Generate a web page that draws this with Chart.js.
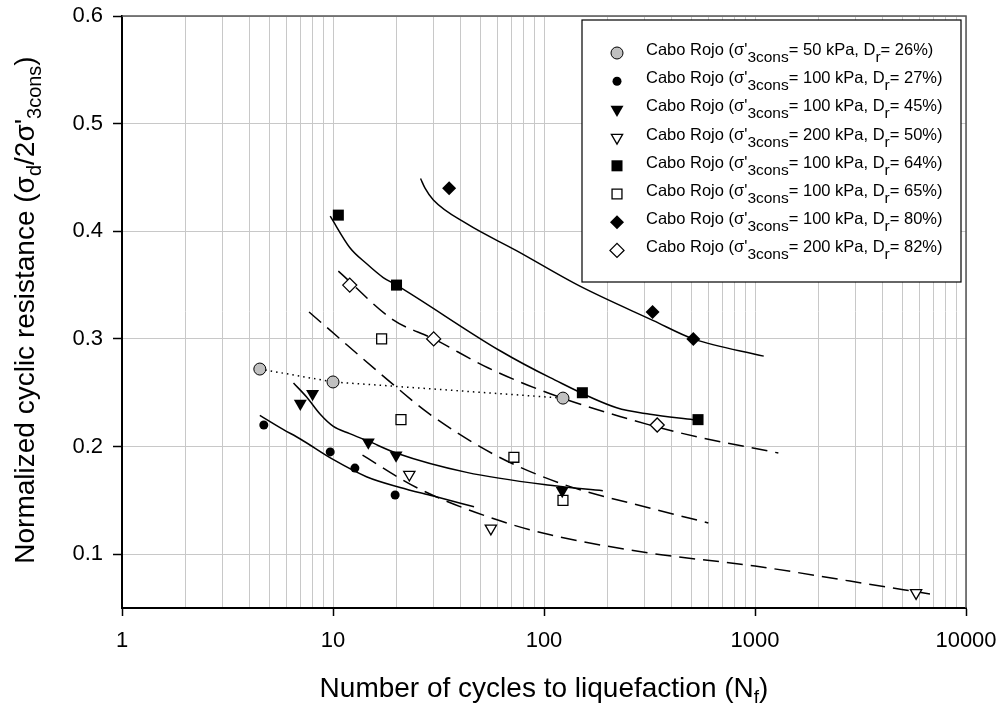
<!DOCTYPE html>
<html>
<head>
<meta charset="utf-8">
<script src="https://cdn.jsdelivr.net/npm/chart.js@4/dist/chart.umd.min.js"></script>
<style>
  html, body { margin: 0; padding: 0; background: #fff; }
  #wrap { position: relative; width: 1002px; height: 707px; }
</style>
</head>
<body>
<div id="wrap"><canvas id="chart"></canvas></div>
<script>
var FONT = "'Liberation Sans', Arial, Helvetica, sans-serif";

// ── axis labels ───────────────────────────────────────────────────────────────
var xLabels = [1, 10, 100, 1000, 10000];
var yLabels = [0.1, 0.2, 0.3, 0.4, 0.5, 0.6];

// ── legend text ───────────────────────────────────────────────────────────────
var legendStress = [50, 100, 100, 200, 100, 100, 100, 200];
var legendDr     = [26, 27, 45, 50, 64, 65, 80, 82];

// ── test results (N_f, CSR) ───────────────────────────────────────────────────
var cr26N = [4.5, 10, 123];
var cr26R = [0.272, 0.260, 0.245];

var cr27N = [4.7, 9.7, 12.7, 19.7];
var cr27R = [0.220, 0.195, 0.180, 0.155];

var cr45N = [7.0, 8.0, 14.7, 19.9, 122];
var cr45R = [0.240, 0.249, 0.204, 0.192, 0.159];

var cr50N = [23, 56, 5800];
var cr50R = [0.174, 0.124, 0.064];

var cr64N = [10.6, 20, 152, 537];
var cr64R = [0.415, 0.350, 0.250, 0.225];

var cr65N = [17, 21, 72, 123];
var cr65R = [0.300, 0.225, 0.190, 0.150];

var cr80N = [35.5, 327, 510];
var cr80R = [0.440, 0.325, 0.300];

var cr82N = [12, 30, 344];
var cr82R = [0.350, 0.300, 0.220];

// ── trend lines (traced) ──────────────────────────────────────────────────────
var fit27N = [4.5, 5.8, 7, 10, 14.4, 20.8, 29.9, 46.6];
var fit27R = [0.229, 0.216, 0.207, 0.188, 0.172, 0.162, 0.154, 0.144];

var fit45N = [6.5, 7.5, 8.7, 10, 12, 14.7, 19.9, 43, 107, 190];
var fit45R = [0.259, 0.246, 0.230, 0.219, 0.212, 0.205, 0.194, 0.176, 0.164, 0.159];

var fit50N = [13.8, 25.4, 61.9, 107, 318, 1000, 2820, 6750];
var fit50R = [0.192, 0.161, 0.131, 0.118, 0.101, 0.089, 0.075, 0.063];

var fit64N = [9.7, 12, 14.4, 17.3, 20, 61.9, 107, 221, 318, 510];
var fit64R = [0.414, 0.385, 0.370, 0.357, 0.350, 0.289, 0.264, 0.236, 0.230, 0.225];

var fit65N = [7.7, 20, 28.3, 57.5, 119, 330, 601];
var fit65R = [0.325, 0.255, 0.231, 0.193, 0.166, 0.142, 0.129];

var fit80N = [26, 27.3, 29.9, 43, 74, 148, 330, 510, 1100];
var fit80R = [0.449, 0.440, 0.429, 0.407, 0.382, 0.349, 0.317, 0.300, 0.284];

var fit82N = [10.6, 19.2, 30, 54.5, 107, 229, 457, 1290];
var fit82R = [0.363, 0.318, 0.300, 0.273, 0.249, 0.228, 0.212, 0.194];

// ── helpers ───────────────────────────────────────────────────────────────────

function pairs(xs, ys) {
  return xs.map(function(x, i) { return { x: x, y: ys[i] }; });
}

var markers = [
  { pts: pairs(cr26N, cr26R), style: "circle",   radius: 6,   rot: 0,   bg: "#c0c0c0", bw: 1 },
  { pts: pairs(cr27N, cr27R), style: "circle",   radius: 4.5, rot: 0,   bg: "#000",    bw: 0 },
  { pts: pairs(cr45N, cr45R), style: "triangle", radius: 7.5, rot: 180, bg: "#000",    bw: 0 },
  { pts: pairs(cr50N, cr50R), style: "triangle", radius: 6.5, rot: 180, bg: "#fff",    bw: 1.3 },
  { pts: pairs(cr64N, cr64R), style: "rect",     radius: 7.8, rot: 0,   bg: "#000",    bw: 0 },
  { pts: pairs(cr65N, cr65R), style: "rect",     radius: 7,   rot: 0,   bg: "#fff",    bw: 1.3 },
  { pts: pairs(cr80N, cr80R), style: "rectRot",  radius: 7,   rot: 0,   bg: "#000",    bw: 0 },
  { pts: pairs(cr82N, cr82R), style: "rectRot",  radius: 7,   rot: 0,   bg: "#fff",    bw: 1.3 }
];

var DASH = [16, 8];
var lines = [
  { pts: pairs(cr26N, cr26R),   dash: [1.5, 4], smooth: false },
  { pts: pairs(fit27N, fit27R), dash: [],       smooth: true },
  { pts: pairs(fit45N, fit45R), dash: [],       smooth: true },
  { pts: pairs(fit50N, fit50R), dash: DASH,     smooth: true },
  { pts: pairs(fit64N, fit64R), dash: [],       smooth: true },
  { pts: pairs(fit65N, fit65R), dash: DASH,     smooth: true },
  { pts: pairs(fit80N, fit80R), dash: [],       smooth: true },
  { pts: pairs(fit82N, fit82R), dash: DASH,     smooth: true }
];

var datasets = [];
markers.forEach(function(m) {
  datasets.push({
    data: m.pts,
    showLine: false,
    pointStyle: m.style,
    pointRadius: m.radius,
    pointHoverRadius: m.radius,
    pointRotation: m.rot,
    pointBackgroundColor: m.bg,
    pointBorderColor: "#000",
    pointBorderWidth: m.bw
  });
});
lines.forEach(function(l) {
  datasets.push({
    data: l.pts,
    showLine: true,
    borderColor: "#000",
    borderWidth: 1.5,
    borderDash: l.dash,
    pointRadius: 0,
    pointHoverRadius: 0,
    fill: false,
    tension: 0,
    cubicInterpolationMode: l.smooth ? "monotone" : "default"
  });
});

// minor grid for the log axis
var xGrid = [];
for (var d = 1; d < 10000; d *= 10) {
  for (var m = 1; m < 10; m++) xGrid.push(d * m);
}
xGrid.push(10000);

// ── text with subscripts ──────────────────────────────────────────────────────

function runsWidth(ctx, runs, size, subSize) {
  var w = 0;
  runs.forEach(function(r) {
    ctx.font = (r.sub ? subSize : size) + "px " + FONT;
    w += ctx.measureText(r.t).width;
  });
  return w;
}

function drawRuns(ctx, runs, x, y, size, subSize, subShift, align) {
  var w = runsWidth(ctx, runs, size, subSize);
  var cx = align === "center" ? x - w / 2 : x;
  ctx.textAlign = "left";
  ctx.textBaseline = "alphabetic";
  runs.forEach(function(r) {
    ctx.font = (r.sub ? subSize : size) + "px " + FONT;
    ctx.fillText(r.t, cx, y + (r.sub ? subShift : 0));
    cx += ctx.measureText(r.t).width;
  });
}

var decorPlugin = {
  id: "decor",
  afterDraw: function(chart) {
    var ctx = chart.ctx;
    var a = chart.chartArea;
    ctx.save();

    // top and right frame
    ctx.strokeStyle = "#555";
    ctx.lineWidth = 1.5;
    ctx.beginPath();
    ctx.moveTo(a.left, a.top);
    ctx.lineTo(a.right, a.top);
    ctx.lineTo(a.right, a.bottom);
    ctx.stroke();

    ctx.fillStyle = "#000";

    // x title
    drawRuns(ctx, [
      { t: "Number of cycles to liquefaction (N" },
      { t: "f", sub: true },
      { t: ")" }
    ], (a.left + a.right) / 2, 697, 28, 19, 6, "center");

    // y title
    ctx.save();
    ctx.translate(34, (a.top + a.bottom) / 2 - 2);
    ctx.rotate(-Math.PI / 2);
    drawRuns(ctx, [
      { t: "Normalized cyclic resistance (\u03c3" },
      { t: "d", sub: true },
      { t: "/2\u03c3'" },
      { t: "3cons", sub: true },
      { t: ")" }
    ], 0, 0, 28, 20, 7, "center");
    ctx.restore();

    // legend box
    var bx = 582, by = 20, bw = 379, bh = 262;
    ctx.fillStyle = "#fff";
    ctx.fillRect(bx, by, bw, bh);
    ctx.strokeStyle = "#000";
    ctx.lineWidth = 1.2;
    ctx.strokeRect(bx, by, bw, bh);

    for (var i = 0; i < markers.length; i++) {
      var m = markers[i];
      var cy = 53 + i * 28.2;
      ctx.fillStyle = m.bg;
      ctx.strokeStyle = "#000";
      ctx.lineWidth = m.bw;
      Chart.helpers.drawPoint(ctx, {
        pointStyle: m.style,
        radius: m.radius,
        rotation: m.rot,
        borderWidth: m.bw
      }, 617, cy);

      ctx.fillStyle = "#000";
      drawRuns(ctx, [
        { t: "Cabo Rojo (\u03c3'" },
        { t: "3cons", sub: true },
        { t: "= " + legendStress[i] + " kPa, D" },
        { t: "r", sub: true },
        { t: "= " + legendDr[i] + "%)" }
      ], 646, cy + 2, 16.5, 15.5, 7, "left");
    }
    ctx.restore();
  }
};

// ── chart ─────────────────────────────────────────────────────────────────────

function noPad(s) {
  s.paddingTop = 0;
  s.paddingBottom = 0;
  s.paddingLeft = 0;
  s.paddingRight = 0;
}

var chart = new Chart(document.getElementById("chart").getContext("2d"), {
  type: "scatter",
  data: { datasets: datasets },
  plugins: [decorPlugin],
  options: {
    responsive: true,
    maintainAspectRatio: false,
    animation: false,
    layout: { padding: { top: 16, right: 36, left: 0, bottom: 0 } },
    plugins: {
      legend: { display: false },
      tooltip: { enabled: false }
    },
    scales: {
      x: {
        type: "logarithmic",
        min: 1,
        max: 10000,
        afterBuildTicks: function(axis) {
          axis.ticks = xGrid.map(function(v) { return { value: v }; });
        },
        afterFit: function(s) { s.height = 99; noPad(s); },
        ticks: {
          autoSkip: false,
          maxRotation: 0,
          padding: 12,
          color: "#000",
          font: { family: FONT, size: 22 },
          callback: function(v) { return xLabels.indexOf(v) >= 0 ? String(v) : ""; }
        },
        grid: {
          color: "#c8c8c8",
          lineWidth: 1,
          tickLength: 8,
          tickWidth: 1.5,
          tickColor: function(c) {
            return c.tick && xLabels.indexOf(c.tick.value) >= 0 ? "#000" : "rgba(0,0,0,0)";
          }
        },
        border: { color: "#000", width: 2 }
      },
      y: {
        min: 0.05,
        max: 0.6,
        afterBuildTicks: function(axis) {
          axis.ticks = yLabels.map(function(v) { return { value: v }; });
        },
        afterFit: function(s) { s.width = 122; noPad(s); },
        ticks: {
          padding: 10,
          color: "#000",
          font: { family: FONT, size: 22 },
          callback: function(v) { return v.toFixed(1); }
        },
        grid: {
          color: "#c8c8c8",
          lineWidth: 1,
          tickLength: 9,
          tickWidth: 1.5,
          tickColor: "#000"
        },
        border: { color: "#000", width: 2 }
      }
    }
  }
});
</script>
</body>
</html>
